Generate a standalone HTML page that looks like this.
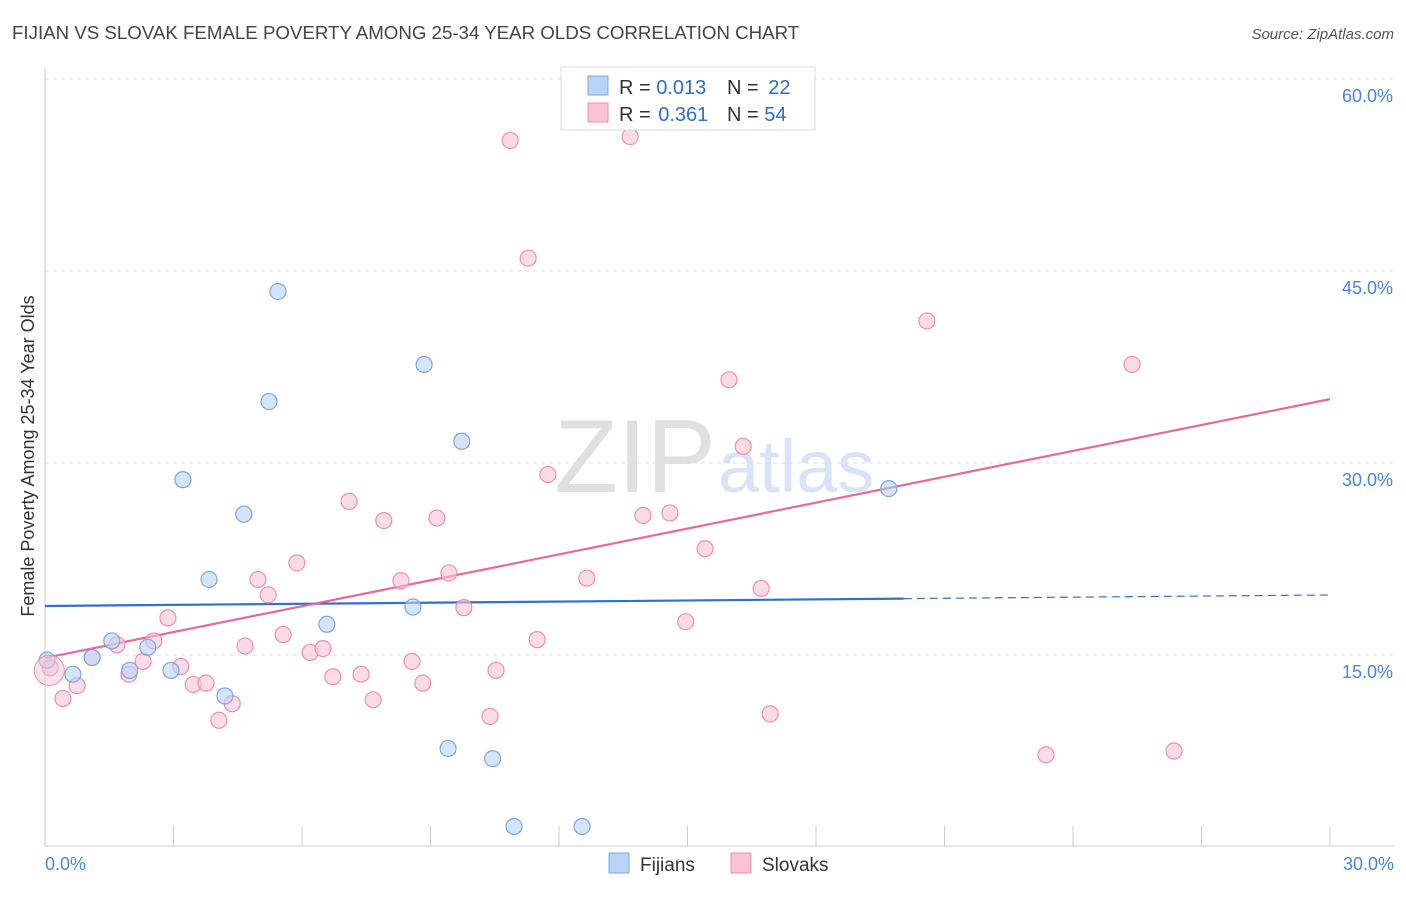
<!DOCTYPE html>
<html><head><meta charset="utf-8"><style>
body{margin:0;background:#fff;font-family:"Liberation Sans",sans-serif}
svg text{font-family:"Liberation Sans",sans-serif}
</style></head><body>
<svg id="c" width="1406" height="892" xmlns="http://www.w3.org/2000/svg">
<text x="12" y="39" font-size="18.7" fill="#444">FIJIAN VS SLOVAK FEMALE POVERTY AMONG 25-34 YEAR OLDS CORRELATION CHART</text>
<text x="1394" y="39" font-size="15" fill="#555" text-anchor="end" font-style="italic">Source: ZipAtlas.com</text>
<text x="716" y="492" font-size="104" fill="#e0e0e0" text-anchor="end" font-family="Liberation Serif">ZIP</text>
<text x="718" y="492" font-size="74" fill="#d8e4f5">atlas</text>
<g id="grid"></g><g id="axes"></g><g id="lines"></g><g id="pts"></g>
<text transform="translate(34,456) rotate(-90)" font-size="18" fill="#333" text-anchor="middle">Female Poverty Among 25-34 Year Olds</text>
<g>
<rect x="561" y="67" width="254" height="63" fill="#fff" stroke="#ddd"/>
<rect x="588" y="76" width="20" height="19" fill="#b9d3f5" stroke="#7da7e0"/>
<rect x="588" y="103" width="20" height="19" fill="#f8c3d3" stroke="#ee8fae"/>
<text x="619" y="94" font-size="20" fill="#333">R = <tspan fill="#2f6ccc">0.013</tspan></text>
<text x="727" y="94" font-size="20" fill="#333">N = <tspan fill="#2f6ccc" dx="4">22</tspan></text>
<text x="619" y="121" font-size="20" fill="#333">R = <tspan fill="#2f6ccc" dx="2">0.361</tspan></text>
<text x="727" y="121" font-size="20" fill="#333">N = <tspan fill="#2f6ccc">54</tspan></text>
</g>
<g>
<rect x="609" y="853" width="20" height="20" fill="#b9d3f5" stroke="#7da7e0"/>
<text x="640" y="871" font-size="19" fill="#333">Fijians</text>
<rect x="731" y="853" width="20" height="20" fill="#f8c3d3" stroke="#ee8fae"/>
<text x="762" y="871" font-size="19" fill="#333">Slovaks</text>
</g>
</svg>
<script>
const fijX=[0.05,0.65,1.10,1.56,1.98,2.40,2.94,3.22,3.83,4.20,4.64,5.23,5.44,6.58,8.59,8.85,9.41,9.73,10.45,10.95,12.54,19.70];
const fijY=[14.6,13.5,14.8,16.1,13.8,15.6,13.8,28.7,20.9,11.8,26.0,34.8,43.4,17.4,18.75,37.7,7.7,31.7,6.9,1.6,1.6,28.0];
const sloX=[0.12,0.42,0.75,1.10,1.68,1.96,2.29,2.54,2.87,3.17,3.46,3.76,4.06,4.37,4.67,4.97,5.21,5.56,5.88,6.19,6.49,6.72,7.10,7.38,7.66,7.91,8.31,8.57,8.82,9.15,9.43,9.78,10.39,10.53,10.86,11.28,11.49,11.74,12.65,13.66,13.96,14.59,14.96,15.41,15.97,16.30,16.72,16.93,20.59,23.37,25.38,26.36];
const sloY=[14.0,11.6,12.6,14.8,15.8,13.5,14.5,16.1,17.9,14.1,12.7,12.8,9.9,11.2,15.7,20.9,19.7,16.6,22.2,15.2,15.5,13.3,27.0,13.5,11.5,25.5,20.8,14.5,12.8,25.7,21.4,18.7,10.2,13.8,55.2,46.0,16.2,29.1,21.0,55.5,25.9,26.1,17.6,23.3,36.5,31.3,20.2,10.4,41.1,7.2,37.7,7.5];
const fijLine=[18.83,19.69];
const sloLine=[14.77,34.99];
const yTicks=[15,30,45,60];
const yTickLabels=["15.0%","30.0%","45.0%","60.0%"];
const xTicks=[0,3,6,9,12,15,18,21,24,27,30];
const NS="http://www.w3.org/2000/svg";
const sx=v=>45+v/30*1285, sy=v=>847-v*12.8;
function mk(p,t,a){const e=document.createElementNS(NS,t);for(const k in a)e.setAttribute(k,a[k]);document.getElementById(p).appendChild(e);return e;}
yTicks.forEach((t,i)=>{
 const g=mk('grid','line',{x1:45,x2:1394,y1:sy(t),y2:sy(t),stroke:'#ddd','stroke-dasharray':'4,4'});
 
 
 const l=mk('axes','text',{x:1393,y:sy(t)+23,'font-size':18,fill:'#4a86d8','text-anchor':'end'});l.textContent=yTickLabels[i];
 
 
});
const ax=mk('axes','line',{x1:45,x2:1394,y1:846,y2:846,stroke:'#ccc'});


const ay=mk('axes','line',{x1:45,x2:45,y1:68,y2:846,stroke:'#ccc'});


xTicks.forEach(t=>{const e=mk('axes','line',{x1:sx(t),x2:sx(t),y1:826,y2:846,stroke:'#ccc'});
 
 });
const x0=mk('axes','text',{x:45,y:870,'font-size':18,fill:'#4a86d8'});x0.textContent='0.0%';


const x1=mk('axes','text',{x:1394,y:870,'font-size':18,fill:'#4a86d8','text-anchor':'end'});x1.textContent='30.0%';


function dots(xs,ys,f,s,n){xs.forEach((x,i)=>{const c=mk('pts','circle',{cx:sx(x),cy:sy(ys[i]),r:8,fill:f,'fill-opacity':0.6,stroke:s,'stroke-width':1.2});
 
 });}
dots(sloX,sloY,'#f8c3d3','#ee8fae','slovak-point');
dots(fijX,fijY,'#b9d3f5','#7da7e0','fijian-point');
const big=mk('pts','circle',{cx:sx(0.1),cy:sy(13.8),r:15,fill:'#f8c3d3','fill-opacity':0.5,stroke:'#ee8fae'});


const fy=x=>fijLine[0]+(fijLine[1]-fijLine[0])*x/30;
const l1=mk('lines','line',{x1:sx(0),y1:sy(fy(0)),x2:sx(20.05),y2:sy(fy(20.05)),stroke:'#2f6fd6','stroke-width':2.2});


const l2=mk('lines','line',{x1:sx(20.05),y1:sy(fy(20.05)),x2:sx(30),y2:sy(fy(30)),stroke:'#2f6fd6','stroke-width':1.2,'stroke-dasharray':'8,5'});


const l3=mk('lines','line',{x1:sx(0),y1:sy(sloLine[0]),x2:sx(30),y2:sy(sloLine[1]),stroke:'#e8689a','stroke-width':2.2});


</script>
</body></html>
